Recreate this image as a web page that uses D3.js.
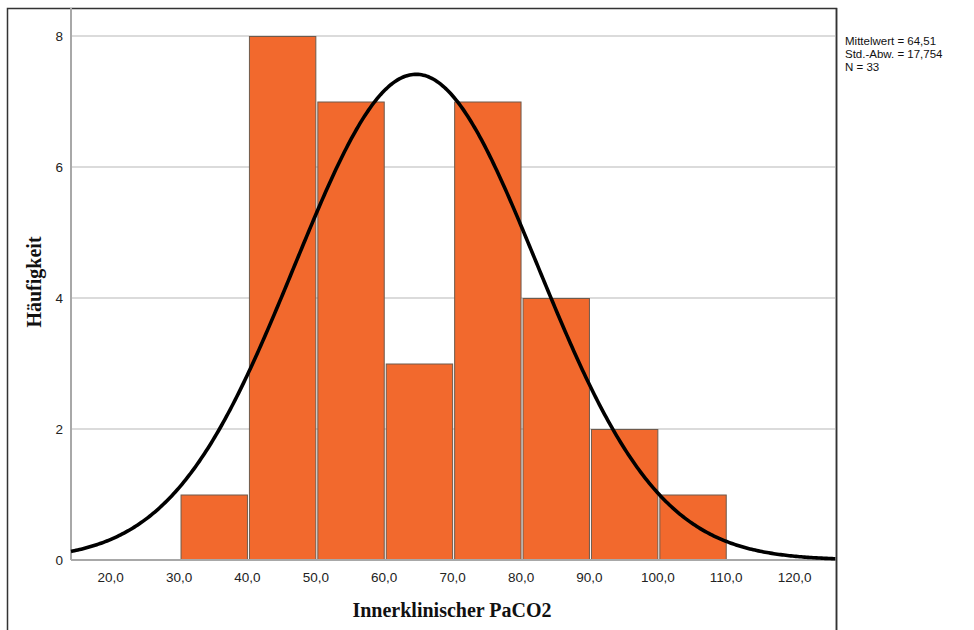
<!DOCTYPE html>
<html>
<head>
<meta charset="utf-8">
<script src="https://cdn.jsdelivr.net/npm/d3@7"></script>
<style>
  html, body { margin: 0; padding: 0; background: #fff; }
  svg { display: block; }
</style>
</head>
<body>
<svg id="chart" width="974" height="630"></svg>
<script>
// Histogram bins (lower edge, upper edge) and counts
const binStarts = [30, 40, 50, 60, 70, 80, 90, 100];
const binEnds   = [40, 50, 60, 70, 80, 90, 100, 110];
const counts    = [1, 8, 7, 3, 7, 4, 2, 1];

// Axis ticks
const xTicks = [20, 30, 40, 50, 60, 70, 80, 90, 100, 110, 120];
const yTicks = [0, 2, 4, 6, 8];

// Summary statistics shown in the legend
const mean = 64.51;
const sd = 17.754;
const n = 33;
const binWidth = 10;

const svg = d3.select("#chart");
const W = 974, H = 630;

const plot = { left: 71, right: 836, top: 8, bottom: 560 };

const x = d3.scaleLinear().domain([14.06, 125.9]).range([plot.left, plot.right]);
const y = d3.scaleLinear().domain([0, 8]).range([plot.bottom, 36]);

const fmt = v => v.toFixed(1).replace(".", ",");

// Outer frame
svg.append("path")
  .attr("d", `M7.5,${H} V8.5 H${plot.right + 0.5} V${H}`)
  .attr("fill", "none").attr("stroke", "#333").attr("stroke-width", 1.5);

// Horizontal gridlines
svg.append("g").selectAll("line")
  .data(yTicks.filter(d => d > 0))
  .join("line")
  .attr("x1", plot.left).attr("x2", plot.right)
  .attr("y1", d => y(d)).attr("y2", d => y(d))
  .attr("stroke", "#cfcfcf").attr("stroke-width", 1.5);

// Bars
const bins = binStarts.map((s, i) => ({ x0: s, x1: binEnds[i], c: counts[i] }));
svg.append("g").selectAll("rect")
  .data(bins)
  .join("rect")
  .attr("x", d => x(d.x0) + 1)
  .attr("width", d => x(d.x1) - x(d.x0) - 2)
  .attr("y", d => y(d.c) + 0.5)
  .attr("height", d => y(0) - y(d.c) - 0.5)
  .attr("fill", "#F2692D")
  .attr("stroke", "#6e5a4c").attr("stroke-width", 1);

// Axis lines
svg.append("line")
  .attr("x1", plot.left).attr("x2", plot.left)
  .attr("y1", plot.top).attr("y2", plot.bottom)
  .attr("stroke", "#a8a8a8").attr("stroke-width", 2);
svg.append("line")
  .attr("x1", plot.left).attr("x2", plot.right)
  .attr("y1", plot.bottom).attr("y2", plot.bottom)
  .attr("stroke", "#a8a8a8").attr("stroke-width", 2);

// Normal curve scaled to the histogram counts
const scale = n * binWidth / (sd * Math.sqrt(2 * Math.PI));
const xs = d3.range(x.domain()[0], x.domain()[1] + 0.001, 0.25);
const curve = xs.map(v => [v, scale * Math.exp(-0.5 * ((v - mean) / sd) ** 2)]);
svg.append("path")
  .datum(curve)
  .attr("fill", "none")
  .attr("stroke", "#000")
  .attr("stroke-width", 3.6)
  .attr("d", d3.line().x(d => x(d[0])).y(d => y(d[1])));

// Right border drawn over the curve end
svg.append("line")
  .attr("x1", plot.right + 0.5).attr("x2", plot.right + 0.5)
  .attr("y1", 8).attr("y2", H)
  .attr("stroke", "#333").attr("stroke-width", 1.5);

// Tick labels
const tickFont = "Liberation Sans, Arial, sans-serif";
svg.append("g").selectAll("text")
  .data(xTicks)
  .join("text")
  .attr("x", d => x(d) - 1)
  .attr("y", 582)
  .attr("text-anchor", "middle")
  .attr("font-family", tickFont).attr("font-size", 13.5)
  .attr("fill", "#222")
  .text(fmt);

svg.append("g").selectAll("text")
  .data(yTicks)
  .join("text")
  .attr("x", 63)
  .attr("y", d => y(d))
  .attr("dy", "0.35em")
  .attr("text-anchor", "end")
  .attr("font-family", tickFont).attr("font-size", 13.5)
  .attr("fill", "#222")
  .text(d => d);

// Axis titles
const titleFont = "Liberation Serif, 'Times New Roman', serif";
svg.append("text")
  .attr("x", 452).attr("y", 617)
  .attr("text-anchor", "middle")
  .attr("font-family", titleFont).attr("font-weight", "bold").attr("font-size", 20)
  .attr("fill", "#111")
  .text("Innerklinischer PaCO2");

svg.append("text")
  .attr("transform", "translate(41,282) rotate(-90)")
  .attr("text-anchor", "middle")
  .attr("font-family", titleFont).attr("font-weight", "bold").attr("font-size", 20)
  .attr("fill", "#111")
  .text("Häufigkeit");

// Legend with summary statistics
const legend = [
  `Mittelwert = ${mean.toFixed(2).replace(".", ",")}`,
  `Std.-Abw. = ${sd.toFixed(3).replace(".", ",")}`,
  `N = ${n}`
];
svg.append("g").selectAll("text")
  .data(legend)
  .join("text")
  .attr("x", 845)
  .attr("y", (d, i) => 45 + i * 13)
  .attr("font-family", tickFont).attr("font-size", 11.5)
  .attr("fill", "#111")
  .text(d => d);
</script>
</body>
</html>
